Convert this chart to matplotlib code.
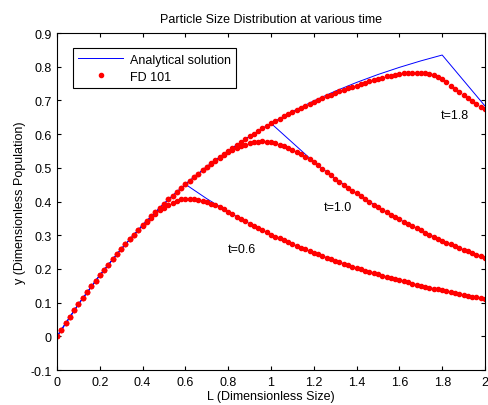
import numpy as np
import matplotlib
matplotlib.use("Agg")
import matplotlib.pyplot as plt

plt.rcParams['font.family'] = ['Liberation Sans', 'DejaVu Sans']

# FD grid: 101 nodes on [0, 2]
L_fd = np.linspace(0, 2, 101)

rise = [0.000, 0.020, 0.039, 0.058, 0.077, 0.095, 0.113, 0.131, 0.148, 0.165,
        0.181, 0.198, 0.213, 0.229, 0.244, 0.259, 0.274, 0.288, 0.302, 0.316]

fd_t06 = rise + [
    0.328, 0.340, 0.352, 0.363, 0.374, 0.382, 0.390, 0.397, 0.403, 0.406,
    0.408, 0.408, 0.406, 0.404, 0.401, 0.398, 0.394, 0.389, 0.383, 0.377,
    0.369, 0.362, 0.355, 0.348, 0.341, 0.334, 0.328, 0.321, 0.315, 0.309,
    0.302, 0.296, 0.291, 0.285, 0.279, 0.274, 0.268, 0.263, 0.258, 0.253,
    0.248, 0.243, 0.238, 0.233, 0.229, 0.224, 0.220, 0.215, 0.211, 0.207,
    0.203, 0.199, 0.195, 0.191, 0.187, 0.184, 0.180, 0.176, 0.173, 0.169,
    0.166, 0.163, 0.160, 0.156, 0.153, 0.150, 0.147, 0.144, 0.141, 0.139,
    0.136, 0.133, 0.131, 0.128, 0.125, 0.123, 0.121, 0.118, 0.116, 0.114, 0.111]

fd_t10 = rise + [
    0.330, 0.343, 0.356, 0.369, 0.381, 0.393, 0.406, 0.417, 0.429, 0.440,
    0.451, 0.462, 0.473, 0.483, 0.493, 0.502, 0.512, 0.521, 0.529, 0.538,
    0.546, 0.553, 0.559, 0.565, 0.569, 0.573, 0.576, 0.578, 0.579, 0.578,
    0.576, 0.573, 0.569, 0.564, 0.559, 0.553, 0.547, 0.540, 0.533, 0.525,
    0.516, 0.507, 0.497, 0.487, 0.478, 0.468, 0.459, 0.450, 0.441, 0.432,
    0.424, 0.415, 0.407, 0.399, 0.391, 0.383, 0.376, 0.368, 0.361, 0.354,
    0.347, 0.340, 0.333, 0.327, 0.320, 0.314, 0.308, 0.302, 0.296, 0.290,
    0.284, 0.278, 0.273, 0.268, 0.262, 0.257, 0.252, 0.247, 0.242, 0.237, 0.233]

fd_t18 = rise + [
    0.330, 0.343, 0.356, 0.369, 0.381, 0.393, 0.406, 0.417, 0.429, 0.440,
    0.451, 0.462, 0.473, 0.483, 0.493, 0.503, 0.513, 0.523, 0.532, 0.542,
    0.551, 0.560, 0.568, 0.577, 0.585, 0.593, 0.601, 0.609, 0.617, 0.625,
    0.632, 0.639, 0.646, 0.653, 0.659, 0.666, 0.672, 0.678, 0.684, 0.690,
    0.696, 0.701, 0.707, 0.712, 0.717, 0.722, 0.727, 0.732, 0.736, 0.740,
    0.744, 0.749, 0.753, 0.757, 0.760, 0.764, 0.767, 0.771, 0.773, 0.776,
    0.778, 0.780, 0.781, 0.782, 0.782, 0.781, 0.780, 0.778, 0.774, 0.769,
    0.763, 0.754, 0.744, 0.734, 0.724, 0.715, 0.706, 0.697, 0.689, 0.681, 0.674]

# Analytical solution points
an_L_t06 = [0.0, 0.1, 0.2, 0.3, 0.4, 0.5, 0.6, 0.7, 0.8, 0.9, 1.0, 1.1, 1.2,
            1.3, 1.4, 1.5, 1.6, 1.7, 1.8, 1.9, 2.0]
an_y_t06 = [0.0, 0.0952, 0.1813, 0.2592, 0.3297, 0.3935, 0.4512, 0.4083, 0.3694,
            0.3343, 0.3024, 0.2737, 0.2476, 0.2241, 0.2027, 0.1835, 0.1660,
            0.1502, 0.1359, 0.1230, 0.1113]

an_L_t10 = [0.0, 0.1, 0.2, 0.3, 0.4, 0.5, 0.6, 0.7, 0.8, 0.9, 1.0, 1.2,
            1.3, 1.4, 1.5, 1.6, 1.7, 1.8, 1.9, 2.0]
an_y_t10 = [0.0, 0.0952, 0.1813, 0.2592, 0.3297, 0.3935, 0.4512, 0.5034, 0.5507,
            0.5934, 0.6321, 0.5176, 0.4683, 0.4237, 0.3834, 0.3469, 0.3139,
            0.2840, 0.2570, 0.2325]

an_L_t18 = [0.0, 0.1, 0.2, 0.3, 0.4, 0.5, 0.6, 0.7, 0.8, 0.9, 1.0, 1.1, 1.2,
            1.3, 1.4, 1.5, 1.6, 1.7, 1.8, 2.0]
an_y_t18 = [0.0, 0.0952, 0.1813, 0.2592, 0.3297, 0.3935, 0.4512, 0.5034, 0.5507,
            0.5934, 0.6321, 0.6671, 0.6988, 0.7275, 0.7534, 0.7769, 0.7981,
            0.8173, 0.8347, 0.6834]

labels = ["t=0.6", "t=1.0", "t=1.8"]
label_pos = [(0.80, 0.26), (1.245, 0.383), (1.795, 0.656)]

FS = 9

fig = plt.figure(figsize=(4.89, 4.06), dpi=100)
ax = fig.add_axes([0.1166, 0.0862, 0.8752, 0.8300])

blue = (0, 0, 1)
red = (1, 0, 0)
ax.plot(an_L_t06, an_y_t06, color=blue, lw=0.7, label="Analytical solution")
ax.plot(L_fd, fd_t06, linestyle='none', marker='o', ms=3.0, color=red, mec=red, label="FD 101")
ax.plot(an_L_t10, an_y_t10, color=blue, lw=0.7)
ax.plot(L_fd, fd_t10, linestyle='none', marker='o', ms=3.0, color=red, mec=red)
ax.plot(an_L_t18, an_y_t18, color=blue, lw=0.7)
ax.plot(L_fd, fd_t18, linestyle='none', marker='o', ms=3.0, color=red, mec=red)

for lab, (x, y) in zip(labels, label_pos):
    ax.text(x, y, lab, fontsize=FS, ha='left', va='center')

ax.set_xlim(0, 2)
ax.set_ylim(-0.1, 0.9)
ax.set_xticks(np.arange(0, 2.01, 0.2))
ax.set_xticklabels(["0", "0.2", "0.4", "0.6", "0.8", "1", "1.2", "1.4", "1.6", "1.8", "2"])
ax.set_yticks(np.arange(-0.1, 0.91, 0.1))
ax.set_yticklabels(["-0.1", "0", "0.1", "0.2", "0.3", "0.4", "0.5", "0.6", "0.7", "0.8", "0.9"])
ax.tick_params(direction='in', top=True, right=True, labelsize=FS, length=3, width=0.8, pad=4)
for s in ax.spines.values():
    s.set_linewidth(0.8)

ax.set_title("Particle Size Distribution at various time", fontsize=FS, pad=8)
ax.set_xlabel("L (Dimensionless Size)", fontsize=FS, labelpad=2)
ax.set_ylabel("y (Dimensionless Population)", fontsize=FS, labelpad=3)

leg = ax.legend(loc='upper left', bbox_to_anchor=(0.037, 0.955), borderaxespad=0,
                fontsize=FS, frameon=True, fancybox=False, edgecolor='black',
                framealpha=1, handlelength=3.6, borderpad=0.45, labelspacing=0.4,
                handletextpad=0.5)
leg.get_frame().set_linewidth(0.8)

fig.savefig("out.png", dpi=100)
